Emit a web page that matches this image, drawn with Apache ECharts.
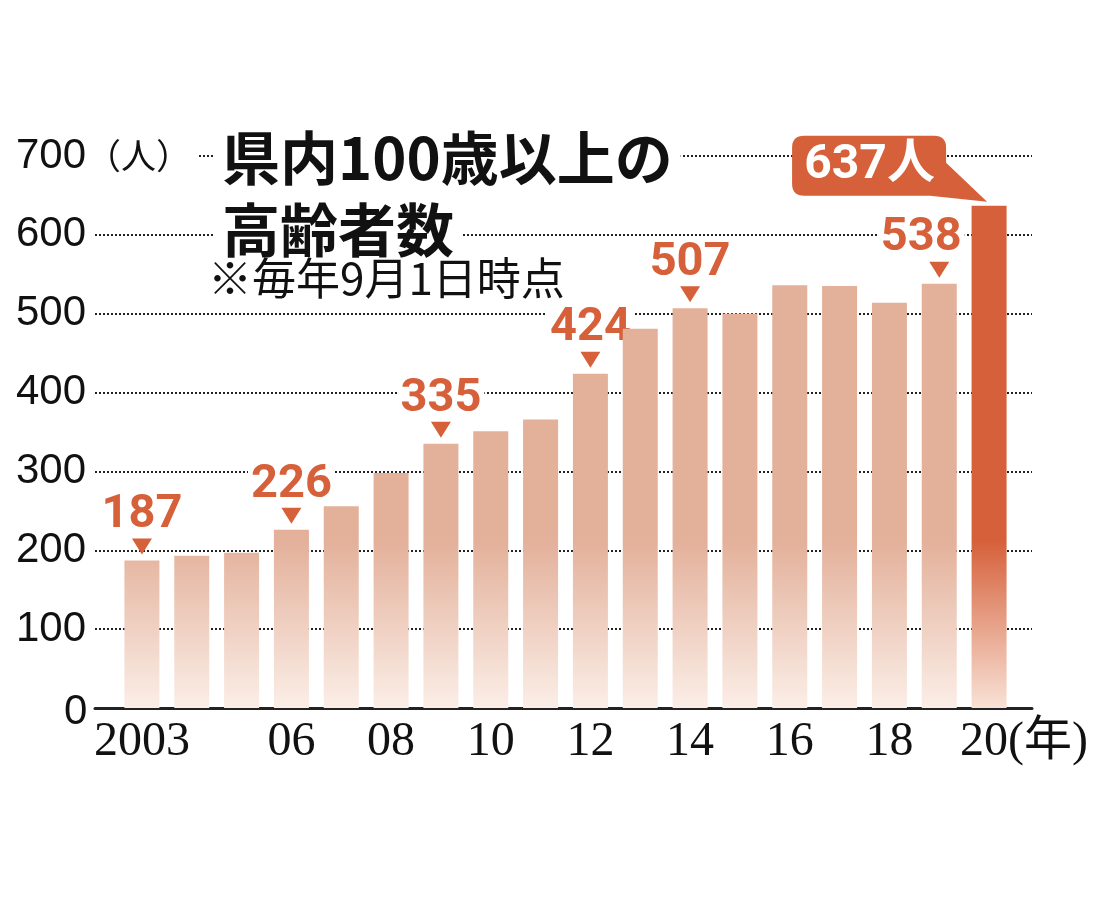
<!DOCTYPE html>
<html>
<head>
<meta charset="utf-8">
<script src="https://cdn.jsdelivr.net/npm/echarts@6/dist/echarts.min.js"></script>
<style>
  html, body { margin: 0; padding: 0; background: #fff; }
  #chart { width: 1100px; height: 900px; }
</style>
</head>
<body>
<div id="chart"></div>
<script>
// 県内100歳以上の高齢者数（毎年9月1日時点）
var years = ['2003','2004','2005','2006','2007','2008','2009','2010','2011',
             '2012','2013','2014','2015','2016','2017','2018','2019','2020'];
var tickLabels = ['2003','','','06','','08','','10','','12','','14','','16','','18','','20(年)'];
var counts = [187,193,197,226,256,298,335,351,366,424,481,507,500,536,535,514,538,637];
// 吹き出し(▼)付きで値を表示する年
var marked = [1,0,0,1,0,0,1,0,0,1,0,1,0,0,0,0,1,0];

var ORANGE = '#d5603a';
var NUM = 'Roboto, "Noto Sans CJK JP", sans-serif';
var CJK = '"Noto Sans CJK JP", sans-serif';

var lightFill = {
    type: 'linear', x: 0, y: 540, x2: 0, y2: 708, global: true,
    colorStops: [{ offset: 0, color: '#e3b09a' }, { offset: 1, color: '#fbeee7' }]
};
var darkFill = {
    type: 'linear', x: 0, y: 540, x2: 0, y2: 708, global: true,
    colorStops: [{ offset: 0, color: '#d5603a' }, { offset: 1, color: '#f8e2d6' }]
};

var barData = [];
var markData = [];
for (var i = 0; i < counts.length; i++) {
    barData.push({
        value: counts[i],
        itemStyle: { color: i === counts.length - 1 ? darkFill : lightFill }
    });
    if (marked[i]) {
        var item = { value: counts[i] };
        if (years[i] === '2019') item.label = { offset: [-18, 0] };
        markData.push(item);
    } else {
        markData.push('-');
    }
}

var xCats = [];
for (var j = 0; j < years.length; j++) {
    if (j === years.length - 1) {
        xCats.push({ value: years[j], textStyle: { padding: [0, 0, 0, 70] } });
    } else {
        xCats.push(years[j]);
    }
}

var chart = echarts.init(document.getElementById('chart'));
var option = {
    backgroundColor: '#fff',
    animation: false,
    title: [{
        text: '{t|県内100歳以上の}\n{t|高齢者数}',
        left: 214,
        top: 122,
        padding: 0,
        textStyle: {
            rich: {
                t: {
                    fontFamily: CJK, fontWeight: 'bold', fontSize: 58,
                    lineHeight: 72, color: '#111',
                    backgroundColor: '#fff', padding: [0, 8, 0, 8]
                }
            }
        }
    }, {
        text: '※毎年9月1日時点',
        left: 208,
        top: 256,
        padding: 0,
        textStyle: { fontFamily: CJK, fontWeight: 'normal', fontSize: 44, color: '#111' }
    }],
    grid: [
        { left: 95, right: 68, top: 156, bottom: 192, outerBoundsMode: 'none' },
        { left: 117, right: 86, top: 156, bottom: 192, outerBoundsMode: 'none' }
    ],
    xAxis: [{
        gridIndex: 0, type: 'value', min: 0, max: 1,
        axisLine: { show: true, onZero: true, lineStyle: { color: '#222', width: 3 } },
        axisTick: { show: false }, axisLabel: { show: false }, splitLine: { show: false }
    }, {
        gridIndex: 1, type: 'category', data: xCats,
        axisLine: { show: false }, axisTick: { show: false },
        axisLabel: {
            interval: 0, margin: 10, color: '#111',
            fontFamily: '"Liberation Serif", "Noto Sans CJK JP", serif', fontSize: 48,
            formatter: function (v, idx) { return tickLabels[idx]; }
        }
    }],
    yAxis: [{
        gridIndex: 0, type: 'value', min: 0, max: 700, interval: 100, z: 0,
        axisLine: { show: false }, axisTick: { show: false }, axisLabel: { show: false },
        splitLine: { lineStyle: { color: '#222', width: 2, type: [2, 2] } }
    }, {
        gridIndex: 0, type: 'value', position: 'left', min: 0, max: 700, interval: 100, z: 3,
        axisLine: { show: false }, axisTick: { show: false }, splitLine: { show: false },
        axisLabel: {
            align: 'left', margin: 79, color: '#111',
            fontFamily: '"Liberation Sans", sans-serif', fontSize: 42,
            formatter: function (v) {
                if (v === 700) return '700{u|（人）}';
                if (v === 0) return '{z|0}';
                return String(v);
            },
            rich: {
                u: { fontFamily: CJK, fontSize: 35, color: '#111',
                     backgroundColor: '#fff', padding: [4, 6, 4, 0] },
                z: { fontFamily: '"Liberation Sans", sans-serif', fontSize: 42, color: '#111',
                     padding: [8, 0, 0, 48] }
            }
        }
    }, {
        gridIndex: 1, type: 'value', min: 0, max: 700, interval: 100, show: false
    }],
    series: [{
        type: 'bar',
        xAxisIndex: 1, yAxisIndex: 2,
        barWidth: 35,
        z: 3,
        data: barData,
        markPoint: {
            symbol: 'path://M12,0 H142 Q154,0 154,12 V27 L195,66 L138,60 H12 Q0,60 0,48 V12 Q0,0 12,0 Z',
            symbolSize: [195, 66],
            symbolOffset: [-99.5, -37],
            itemStyle: { color: ORANGE },
            label: {
                show: true, position: 'inside', offset: [-20, -3],
                color: '#fff', fontFamily: NUM, fontWeight: 'bold', fontSize: 48,
                formatter: function (p) { return p.value + '人'; }
            },
            data: [{ type: 'max' }]
        }
    }, {
        type: 'scatter',
        xAxisIndex: 1, yAxisIndex: 2,
        symbol: 'triangle',
        symbolRotate: 180,
        symbolSize: [20, 16],
        symbolOffset: [0, -14],
        itemStyle: { color: ORANGE, opacity: 1 },
        label: {
            show: true, position: 'top', distance: 2,
            color: ORANGE, fontFamily: NUM, fontWeight: 'bold', fontSize: 47,
            lineHeight: 42, backgroundColor: '#fff', padding: [0, 3, 0, 3]
        },
        data: markData,
        z: 2
    }]
};
chart.setOption(option);
</script>
</body>
</html>
